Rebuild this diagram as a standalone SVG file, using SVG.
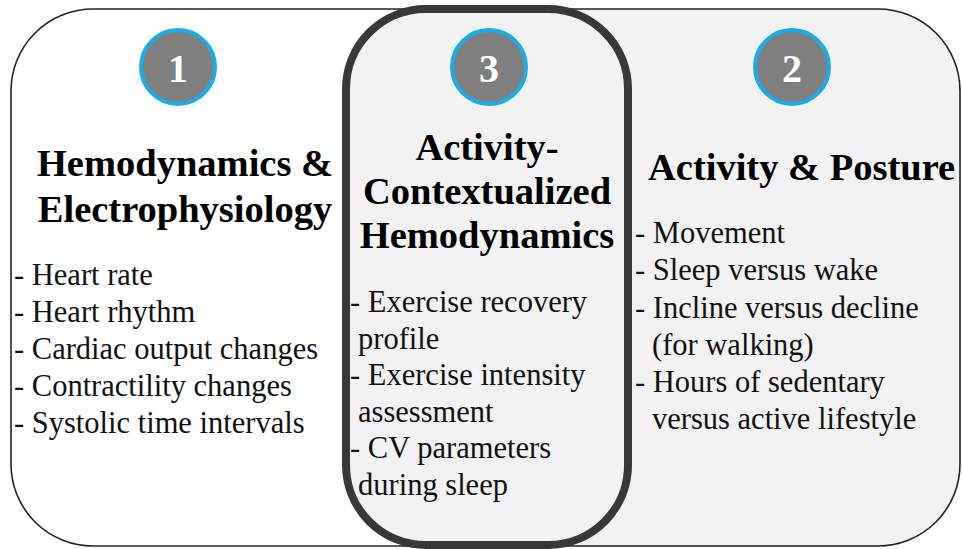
<svg xmlns="http://www.w3.org/2000/svg" width="962" height="549" viewBox="0 0 962 549">
<style>
.head{font-family:"Liberation Serif","Times New Roman",serif;font-weight:bold;font-size:38.5px;fill:#000}
.item{font-family:"Liberation Serif","Times New Roman",serif;font-size:30.5px;fill:#111}
.num{font-family:"Liberation Serif","Times New Roman",serif;font-weight:bold;font-size:40px;fill:#fff;text-anchor:middle}
.badge{fill:#7f7f7f;stroke:#1aaee8;stroke-width:4}
</style>
<defs>
<clipPath id="outerClip"><rect x="11" y="9" width="949" height="537" rx="82" ry="82"/></clipPath>
</defs>
<rect width="962" height="549" fill="#ffffff"/>
<g id="background">
<g clip-path="url(#outerClip)">
<rect x="0" y="0" width="962" height="549" fill="#f2f2f2"/>
<rect x="0" y="0" width="480" height="549" fill="#ffffff"/>
</g>
<rect x="11" y="9" width="949" height="537" rx="82" ry="82" fill="none" stroke="#222" stroke-width="1.6"/>
</g>
<g id="panel1">
<circle class="badge" cx="178" cy="67" r="37"/>
<text class="num" x="178" y="82">1</text>
<text class="head" x="185" y="176" text-anchor="middle">Hemodynamics &amp;</text>
<text class="head" x="185" y="222" text-anchor="middle">Electrophysiology</text>
<text class="item" x="14" y="285">- Heart rate</text>
<text class="item" x="14" y="322">- Heart rhythm</text>
<text class="item" x="14" y="359">- Cardiac output changes</text>
<text class="item" x="14" y="396">- Contractility changes</text>
<text class="item" x="14" y="433">- Systolic time intervals</text>
</g>
<g id="panel3">
<rect x="346" y="9" width="282" height="536" rx="80" ry="80" fill="#f2f2f2" stroke="#383838" stroke-width="8"/>
<circle class="badge" cx="489" cy="67" r="37"/>
<text class="num" x="489" y="82">3</text>
<text class="head" x="487" y="160" text-anchor="middle">Activity-</text>
<text class="head" x="487" y="204" text-anchor="middle">Contextualized</text>
<text class="head" x="487" y="248" text-anchor="middle">Hemodynamics</text>
<text class="item" x="350" y="312">- Exercise recovery</text>
<text class="item" x="358" y="349">profile</text>
<text class="item" x="350" y="385">- Exercise intensity</text>
<text class="item" x="358" y="422">assessment</text>
<text class="item" x="350" y="458">- CV parameters</text>
<text class="item" x="358" y="495">during sleep</text>
</g>
<g id="panel2">
<circle class="badge" cx="792" cy="67" r="37"/>
<text class="num" x="792" y="82">2</text>
<text class="head" x="648" y="180">Activity &amp; Posture</text>
<text class="item" x="635" y="243">- Movement</text>
<text class="item" x="635" y="280">- Sleep versus wake</text>
<text class="item" x="635" y="318">- Incline versus decline</text>
<text class="item" x="652" y="355">(for walking)</text>
<text class="item" x="635" y="392">- Hours of sedentary</text>
<text class="item" x="652" y="429">versus active lifestyle</text>
</g>
</svg>
